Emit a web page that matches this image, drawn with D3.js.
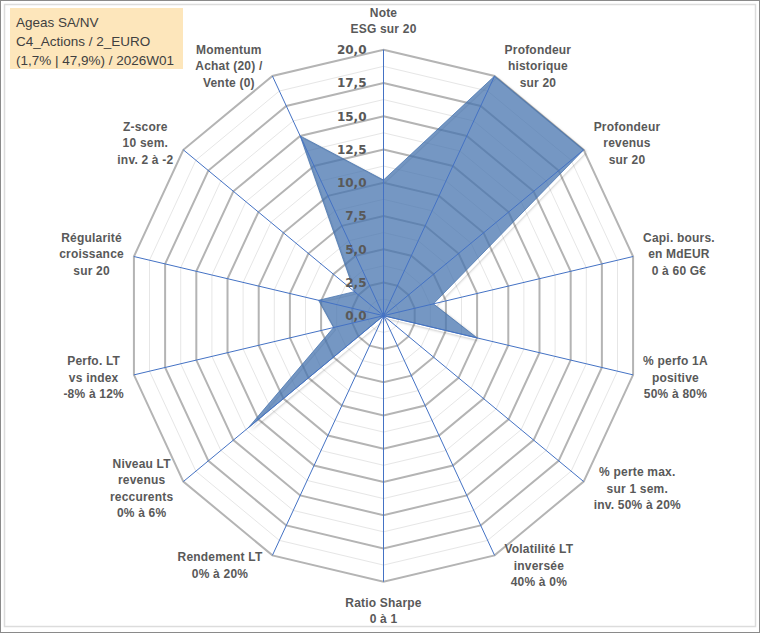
<!DOCTYPE html>
<html>
<head>
<meta charset="utf-8">
<script src="https://cdn.jsdelivr.net/npm/d3@7"></script>
<style>
  html, body { margin: 0; padding: 0; background: #fff; }
  svg { display: block; }
</style>
</head>
<body>
<svg id="chart" width="760" height="633"></svg>
<script>
// ---- data ----
const titleLines = ["Ageas SA/NV", "C4_Actions / 2_EURO", "(1,7% | 47,9%) / 2026W01"];
const axisLabels = [
  ["Note", "ESG sur 20"],
  ["Profondeur", "historique", "sur 20"],
  ["Profondeur", "revenus", "sur 20"],
  ["Capi. bours.", "en MdEUR", "0 à 60 G€"],
  ["% perfo 1A", "positive", "50% à 80%"],
  ["% perte max.", "sur 1 sem.", "inv. 50% à 20%"],
  ["Volatilité LT", "inversée", "40% à 0%"],
  ["Ratio Sharpe", "0 à 1"],
  ["Rendement LT", "0% à 20%"],
  ["Niveau LT", "revenus", "reccurents", "0% à 6%"],
  ["Perfo. LT", "vs index", "-8% à 12%"],
  ["Régularité", "croissance", "sur 20"],
  ["Z-score", "10 sem.", "inv. 2 à -2"],
  ["Momentum", "Achat (20) /", "Vente (0)"]
];
const values = [10.2, 20, 20, 4.0, 7.5, 0, 0, 0, 0, 13.5, 4.0, 5.2, 2.9, 15.0];
const tickValues = [0, 2.5, 5, 7.5, 10, 12.5, 15, 17.5, 20];
const tickLabels = ["0,0", "2,5", "5,0", "7,5", "10,0", "12,5", "15,0", "17,5", "20,0"];
const minorTicks = [1.25, 3.75, 6.25, 8.75, 11.25, 13.75, 16.25, 18.75];

// ---- layout ----
const svg = d3.select("#chart");
const W = 760, H = 633;
const cx = 383.5, cy = 315.7;
const Rx = 256, Ry = 266;
const n = axisLabels.length;
const r = d3.scaleLinear().domain([0, 20]).range([0, 1]);
const angle = d3.scaleLinear().domain([0, n]).range([0, 2 * Math.PI]);
const pt = (v, i) => {
  const a = angle(i);
  return [cx + Rx * r(v) * Math.sin(a), cy - Ry * r(v) * Math.cos(a)];
};
const ringPath = v => d3.line()(d3.range(n).map(i => pt(v, i))) + "Z";

// borders
svg.append("rect").attr("x", 0.5).attr("y", 0.5).attr("width", W - 1).attr("height", H - 1)
  .attr("fill", "#fff").attr("stroke", "#8a8a8a").attr("stroke-width", 1);
svg.append("rect").attr("x", 4.5).attr("y", 4.5).attr("width", W - 9).attr("height", H - 11)
  .attr("fill", "none").attr("stroke", "#dcdcdc").attr("stroke-width", 1.5);

const defs = svg.append("defs");
defs.append("filter").attr("id", "blur").attr("x", "-10%").attr("y", "-10%").attr("width", "120%").attr("height", "120%")
  .append("feGaussianBlur").attr("stdDeviation", 1.8);
const mask = defs.append("mask").attr("id", "outside");
mask.append("rect").attr("x", 0).attr("y", 0).attr("width", W).attr("height", H).attr("fill", "#fff");

// grid
const grid = svg.append("g");
minorTicks.forEach(v => grid.append("path").attr("d", ringPath(v))
  .attr("fill", "none").attr("stroke", "#e6e6e6").attr("stroke-width", 1));
tickValues.filter(v => v > 0).forEach(v => grid.append("path").attr("d", ringPath(v))
  .attr("fill", "none").attr("stroke", "#b4b4b4").attr("stroke-width", 2));

// series
const area = d3.line()(values.map((v, i) => pt(v, i))) + "Z";
mask.append("path").attr("d", area).attr("fill", "#000");
svg.append("path").attr("d", area).attr("transform", "translate(2.5,2.5)")
  .attr("fill", "#000").attr("fill-opacity", 0.35).attr("filter", "url(#blur)").attr("mask", "url(#outside)");
svg.append("path").attr("d", area)
  .attr("fill", "#4774AF").attr("fill-opacity", 0.75)
  .attr("stroke", "#4a76b0").attr("stroke-width", 0.8).attr("stroke-linejoin", "round");

// spokes
const spokes = svg.append("g");
d3.range(n).forEach(i => {
  const [x, y] = pt(20, i);
  spokes.append("line").attr("x1", cx).attr("y1", cy).attr("x2", x).attr("y2", y)
    .attr("stroke", "#4472C4").attr("stroke-width", 1);
});

// tick labels
const ticks = svg.append("g")
  .attr("font-family", "'DejaVu Sans', sans-serif").attr("font-weight", "bold")
  .attr("font-size", 12).attr("fill", "#595959").attr("text-anchor", "end");
tickValues.forEach((v, k) => {
  const [x, y] = pt(v, 0);
  ticks.append("text").attr("x", cx - 17).attr("y", y + 4.4).text(tickLabels[k]);
});

// axis labels
const labG = svg.append("g")
  .attr("font-family", "'Liberation Sans', Arial, sans-serif").attr("font-weight", "bold")
  .attr("font-size", 12).attr("fill", "#595959").attr("text-anchor", "middle")
  .attr("letter-spacing", 0.2);
const lineH = 16.5;
axisLabels.forEach((lines, i) => {
  const a = angle(i);
  const [vx, vy] = pt(20, i);
  const t = labG.append("text");
  lines.forEach(s => t.append("tspan").text(s));
  let maxW = 0;
  t.selectAll("tspan").each(function () { maxW = Math.max(maxW, this.getComputedTextLength()); });
  const s = Math.sin(a), c = Math.cos(a);
  let bx, by;
  if (Math.abs(s) < 0.01) {
    bx = vx;
    by = vy - Math.sign(c) * (lines.length * lineH / 2 + 12.5);
  } else {
    bx = vx + Math.sign(s) * (10 + maxW / 2);
    by = vy - c * 11;
  }
  const y0 = by - (lines.length - 1) * lineH / 2;
  t.selectAll("tspan").attr("x", bx).attr("y", (d, k) => y0 + k * lineH + 4.3);
});

// title box
svg.append("rect").attr("x", 10).attr("y", 8).attr("width", 173).attr("height", 61).attr("fill", "#FDE6BB");
const tt = svg.append("text").attr("font-family", "'Liberation Sans', Arial, sans-serif")
  .attr("font-size", 13.5).attr("fill", "#404040");
titleLines.forEach((s, k) => tt.append("tspan").attr("x", 16).attr("y", 26.5 + k * 19).text(s));
</script>
</body>
</html>
